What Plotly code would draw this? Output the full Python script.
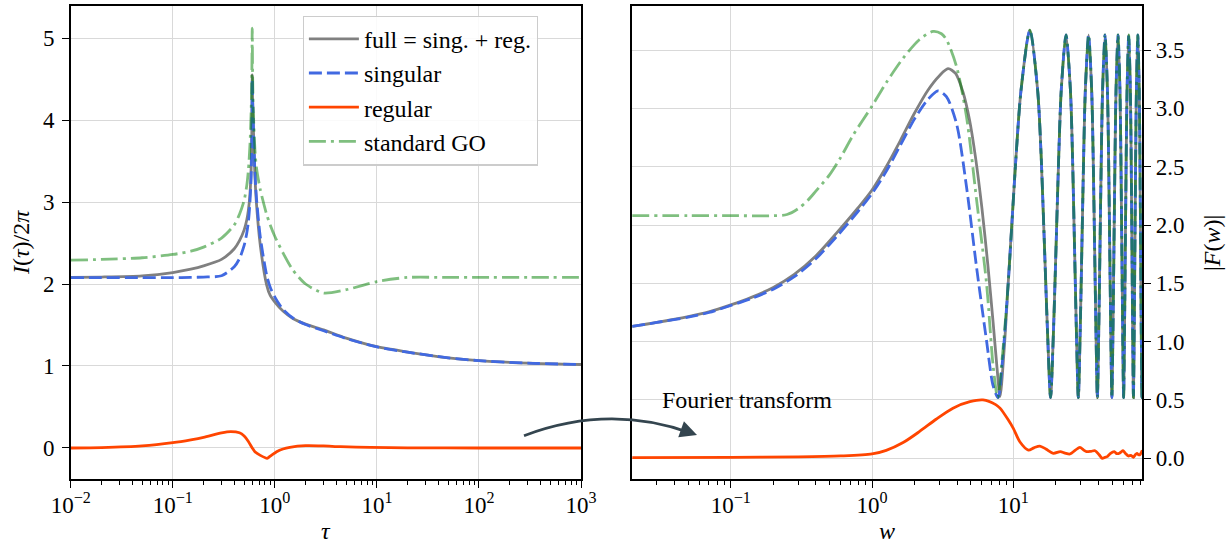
import plotly.graph_objects as go

# ---------------- left panel: I(tau)/2pi ----------------
tau = [0.01, 0.02, 0.05, 0.1, 0.15, 0.2, 0.3, 0.4, 0.45, 0.5, 0.53, 0.55, 0.57,
       0.585, 0.595, 0.6, 0.605, 0.615, 0.637, 0.66, 0.72, 0.83, 0.9, 1.0, 1.2,
       1.5, 2.0, 3.0, 5.0, 10, 20, 50, 100, 300, 1000]
I_full = [2.08, 2.085, 2.10, 2.14, 2.18, 2.22, 2.30, 2.43, 2.53, 2.66, 2.78, 2.90, 3.10,
          3.40, 3.90, 4.55, 4.25, 3.92, 3.33, 2.98, 2.47, 1.99, 1.86, 1.78, 1.67,
          1.58, 1.51, 1.44, 1.34, 1.235, 1.17, 1.10, 1.065, 1.035, 1.018]
I_sing = [2.077, 2.077, 2.077, 2.078, 2.08, 2.085, 2.10, 2.21, 2.31, 2.47, 2.62, 2.76, 3.00,
          3.30, 3.80, 4.50, 4.25, 3.95, 3.38, 3.05, 2.57, 2.11, 1.96, 1.84, 1.69,
          1.585, 1.505, 1.43, 1.335, 1.232, 1.168, 1.10, 1.065, 1.035, 1.018]
I_go = [2.29, 2.30, 2.32, 2.36, 2.40, 2.45, 2.56, 2.72, 2.85, 3.02, 3.20, 3.39, 3.70,
        4.10, 4.60, 5.12, 4.55, 4.10, 3.65, 3.42, 3.15, 2.85, 2.72, 2.58, 2.38,
        2.17, 2.00, 1.89, 1.93, 2.03, 2.08, 2.08, 2.08, 2.08, 2.08]

tau_reg = [0.01, 0.02, 0.05, 0.1, 0.15, 0.2, 0.3, 0.37, 0.45, 0.5, 0.55, 0.6, 0.637,
           0.72, 0.84, 0.9, 1.04, 1.2, 1.4, 2.0, 3.0, 4.4, 8.6, 20, 100, 1000]
I_reg = [0.0, 0.005, 0.025, 0.065, 0.10, 0.13, 0.185, 0.20, 0.185, 0.145, 0.08, 0.0, -0.045,
         -0.09, -0.126, -0.10, -0.045, -0.012, 0.008, 0.028, 0.025, 0.016, 0.008, 0.002, 0.0, 0.0]

# ---------------- right panel: |F(w)| ----------------
w_full = [0.02, 0.03, 0.05, 0.07, 0.1, 0.14, 0.2, 0.28, 0.4, 0.56, 0.8, 1.0, 1.26,
          1.58, 2.0, 2.5, 3.0, 3.45, 3.9, 4.4, 4.9, 5.4, 6.0, 6.6, 7.2, 7.7, 8.05, 8.6]
F_full = [1.13, 1.165, 1.215, 1.255, 1.315, 1.38, 1.465, 1.575, 1.735, 1.93, 2.15, 2.30, 2.50,
          2.72, 2.96, 3.16, 3.28, 3.34, 3.30, 3.14, 2.90, 2.58, 2.14, 1.66, 1.16, 0.75, 0.53, 0.92]
w_sing = [0.02, 0.03, 0.05, 0.07, 0.1, 0.14, 0.2, 0.28, 0.4, 0.56, 0.8, 1.0, 1.26,
          1.58, 2.0, 2.5, 2.93, 3.36, 3.96, 4.66, 5.49, 6.46, 7.2, 7.8, 8.4]
F_sing = [1.13, 1.165, 1.21, 1.25, 1.31, 1.37, 1.45, 1.555, 1.71, 1.90, 2.12, 2.27, 2.46,
          2.68, 2.91, 3.08, 3.15, 3.10, 2.87, 2.33, 1.64, 1.01, 0.62, 0.52, 0.85]
w_go = [0.02, 0.05, 0.1, 0.2, 0.25, 0.3, 0.35, 0.4, 0.5, 0.6, 0.734, 1.0, 1.26,
        1.66, 2.17, 2.7, 3.1, 3.36, 3.96, 4.66, 5.49, 6.46, 7.2, 7.75, 8.4]
F_go = [2.08, 2.08, 2.08, 2.08, 2.09, 2.14, 2.21, 2.29, 2.43, 2.58, 2.77, 3.02, 3.22,
        3.43, 3.59, 3.66, 3.64, 3.59, 3.36, 2.93, 2.22, 1.50, 0.79, 0.52, 0.90]

# high-frequency fringes, where all three curves coincide
w_tail = [9.2, 10.47, 11.35, 13.1, 14.85, 15.73, 17.48, 18.35, 19.22, 20.98, 21.85, 23.6,
          25.35, 26.23, 27.98, 28.85, 29.72, 31.48, 32.35, 34.1, 35.85, 36.73, 38.48, 39.35,
          40.22, 41.98, 42.85, 44.6, 46.35, 47.23, 48.98, 49.85, 50.72, 52.48, 53.35, 55.1,
          56.85, 57.73, 59.48, 60.35, 61.22, 62.98, 63.85, 65.6, 67.35, 68.23, 69.98, 70.85,
          71.72, 73.48, 74.35, 76.1, 77.85, 78.73, 80.48, 81.35, 81.8]
F_tail = [1.50, 2.60, 3.16, 3.67, 3.16, 2.60, 1.07, 0.52, 1.07, 2.60, 3.16, 3.63,
          3.16, 2.60, 1.07, 0.52, 1.07, 2.60, 3.16, 3.63, 3.16, 2.60, 1.07, 0.52,
          1.07, 2.60, 3.16, 3.63, 3.16, 2.60, 1.07, 0.52, 1.07, 2.60, 3.16, 3.63,
          3.16, 2.60, 1.07, 0.52, 1.07, 2.60, 3.16, 3.63, 3.16, 2.60, 1.07, 0.52,
          1.07, 2.60, 3.16, 3.63, 3.16, 2.60, 1.07, 0.52, 0.90]

w_reg = [0.02, 0.1, 0.3, 0.6, 1.0, 1.26, 1.66, 2.17, 2.84, 3.74, 4.93, 6.1, 7.5, 8.05,
         9.2, 10.0, 11.15, 12.77, 14.0, 15.4, 17.0, 19.2, 21.5, 23.2, 25.2, 27.5, 29.6,
         31.5, 33.0, 35.5, 37.9, 40.5, 42.6, 44.5, 46.2, 48.5, 51.8, 54.0, 56.3, 58.0,
         59.8, 62.5, 65.2, 68.0, 70.8, 73.0, 75.0, 77.0, 78.7, 80.5, 81.8]
F_reg = [0.005, 0.008, 0.012, 0.02, 0.037, 0.068, 0.135, 0.23, 0.335, 0.43, 0.485, 0.50, 0.46, 0.43,
         0.33, 0.257, 0.14, 0.071, 0.09, 0.105, 0.08, 0.043, 0.057, 0.045, 0.037, 0.07, 0.094,
         0.07, 0.057, 0.06, 0.065, 0.03, 0.0, 0.008, 0.014, 0.04, 0.057, 0.04, 0.043, 0.055,
         0.065, 0.04, 0.02, 0.025, 0.009, 0.03, 0.043, 0.03, 0.03, 0.05, 0.07]

labels = ["full = sing. + reg.", "singular", "regular", "standard GO"]

GRAY = "#808080"
BLUE = "#4169e1"
RED = "#ff4500"
GREEN = "rgba(0,128,0,0.5)"
FONT = "Liberation Serif, DejaVu Serif, serif"
W, H = 1228, 545

fig = go.Figure()

styles = [
    dict(color=GRAY, width=2.8, dash="solid"),
    dict(color=BLUE, width=2.8, dash="13px,5px"),
    dict(color=RED, width=2.8, dash="solid"),
    dict(color=GREEN, width=2.8, dash="17px,5px,3px,5px"),
]

left = [(tau, I_full), (tau, I_sing), (tau_reg, I_reg), (tau, I_go)]
for (xs, ys), name, st in zip(left, labels, styles):
    fig.add_trace(go.Scatter(x=xs, y=ys, mode="lines", name=name,
                             line=dict(**st, shape="spline", smoothing=0.7),
                             xaxis="x", yaxis="y", showlegend=True))

right = [(w_full + w_tail, F_full + F_tail), (w_sing + w_tail, F_sing + F_tail),
         (w_reg, F_reg), (w_go + w_tail, F_go + F_tail)]
for (xs, ys), name, st in zip(right, labels, styles):
    fig.add_trace(go.Scatter(x=xs, y=ys, mode="lines", name=name,
                             line=dict(**st, shape="spline", smoothing=0.8),
                             xaxis="x2", yaxis="y2", showlegend=False))

sup = {-2: "−2", -1: "−1", 0: "0", 1: "1", 2: "2", 3: "3"}


def decade_labels(exps):
    return [10.0 ** e for e in exps], ["10<sup>%s</sup>" % sup[e] for e in exps]


def minor_vals(lo, hi):
    return [m * 10.0 ** e for e in range(lo, hi) for m in range(2, 10)]


axis_common = dict(showline=True, linecolor="black", linewidth=1.5, mirror=True,
                   ticks="outside", ticklen=7, tickwidth=1.3, tickcolor="black",
                   showgrid=True, gridcolor="#d9d9d9", gridwidth=1.2, zeroline=False,
                   automargin=False,
                   tickfont=dict(family=FONT, size=23, color="black"))

lx_vals, lx_text = decade_labels([-2, -1, 0, 1, 2, 3])
rx_vals, rx_text = decade_labels([-1, 0, 1])

y_dom = [1 - 479.3 / H, 1 - 6.3 / H]

fig.update_layout(
    width=W, height=H,
    margin=dict(l=0, r=0, t=0, b=0),
    paper_bgcolor="white", plot_bgcolor="white",
    font=dict(family=FONT, size=23, color="black"),
    xaxis=dict(axis_common, type="log", domain=[70.8 / W, 581.0 / W], range=[-2, 3],
               tickmode="array", tickvals=lx_vals, ticktext=lx_text, anchor="y",
               ticklabelstandoff=-3,
               minor=dict(ticks="outside", ticklen=4, tickwidth=1, tickcolor="black",
                          tickmode="array", tickvals=minor_vals(-2, 3), showgrid=False)),
    yaxis=dict(axis_common, domain=y_dom, range=[-0.382, 5.387], anchor="x",
               tickmode="array", tickvals=[0, 1, 2, 3, 4, 5], ticklabelstandoff=3),
    xaxis2=dict(axis_common, type="log", domain=[632.3 / W, 1142.3 / W],
                range=[-1.697, 1.913], anchor="y2", ticklabelstandoff=-3,
                tickmode="array", tickvals=rx_vals, ticktext=rx_text,
                minor=dict(ticks="outside", ticklen=4, tickwidth=1, tickcolor="black",
                           tickmode="array", tickvals=minor_vals(-2, 2), showgrid=False)),
    yaxis2=dict(axis_common, domain=y_dom, range=[-0.18, 3.875], anchor="x2", side="right",
                tickmode="array", tickvals=[0, 0.5, 1, 1.5, 2, 2.5, 3, 3.5], tickformat=".1f"),
    legend=dict(x=302.7 / W, y=1 - 15.5 / H, xanchor="left", yanchor="top",
                bgcolor="rgba(255,255,255,0.85)", bordercolor="#cccccc", borderwidth=1.2,
                font=dict(family=FONT, size=24), itemwidth=50, tracegroupgap=0),
)

ARROW = "#34454f"


def px(x, y):
    return x / W, 1 - y / H


def label(x, y, text, size=23, angle=0):
    lx, ly = px(x, y)
    fig.add_annotation(x=lx, y=ly, xref="paper", yref="paper", xanchor="center",
                       yanchor="middle", textangle=angle, showarrow=False, text=text,
                       font=dict(family=FONT, size=size, color="black"))


# curved arrow linking the two panels
x0, y0 = px(524, 435.7)
xc, yc = px(610, 403.3)
x1, y1 = px(692, 433.5)
fig.add_shape(type="path", xref="paper", yref="paper",
              path=f"M {x0},{y0} Q {xc},{yc} {x1},{y1}",
              line=dict(color=ARROW, width=2.8))
hx, hy = px(697, 435)
fig.add_annotation(x=hx, y=hy, xref="paper", yref="paper", ax=-14, ay=-5, text="",
                   showarrow=True, arrowhead=2, arrowsize=1.3, arrowwidth=2.6,
                   arrowcolor=ARROW, standoff=0)

label(746.5, 400, "Fourier transform", size=24)

# axis titles
label(21, 243, "<i>I</i>(<i>τ</i>)/2<i>π</i>", size=24, angle=-90)
label(1212, 243, "|<i>F</i>(<i>w</i>)|", size=24, angle=-90)
label(326, 531, "<i>τ</i>", size=24)
label(887, 531, "<i>w</i>", size=24)

fig.write_html("out.html")
